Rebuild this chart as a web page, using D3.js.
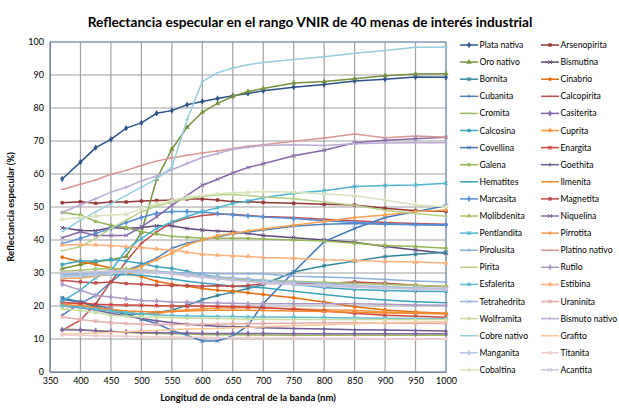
<!DOCTYPE html>
<html>
<head>
<meta charset="utf-8">
<script src="https://cdn.jsdelivr.net/npm/d3@7"></script>
<style>
  body { margin: 0; background: #fff; }
  svg { font-family: Lato, "Liberation Sans", sans-serif; }
  .tick text { font-size: 9px; fill: #000; }
  .legend text { font-size: 8.6px; fill: #000; }
</style>
</head>
<body>
<div id="chartContainer"></div>
<script>
// band centres (nm)
var wavelengths = [370, 400, 425, 450, 475, 500, 525, 550, 575, 600, 625, 650, 675, 700, 750, 800, 850, 900, 950, 1000];
var xTicks = [350, 400, 450, 500, 550, 600, 650, 700, 750, 800, 850, 900, 950, 1000];
var yTicks = [0, 10, 20, 30, 40, 50, 60, 70, 80, 90, 100];

// reflectance (%) per mineral
var plataNativa   = [58.5,63.6,68.0,70.5,73.9,75.5,78.4,79.2,81.0,82.0,82.9,83.7,84.4,85.2,86.3,87.1,88.2,88.7,89.4,89.3];
var arsenopirita  = [51.3,51.6,51.1,51.5,51.5,51.8,52.0,52.1,52.4,52.4,52.1,51.6,51.6,51.4,51.1,50.8,50.6,49.6,48.9,48.7];
var oroNativo     = [31.3,32.6,33.4,34.0,35.0,42.3,58.4,67.5,74.2,78.7,81.4,83.5,85.0,85.9,87.6,88.0,88.9,89.8,90.3,90.4];
var bismutina     = [43.7,42.9,42.8,43.8,43.5,43.8,44.3,44.3,43.5,43.0,42.7,42.5,42.0,41.4,40.7,40.0,39.3,38.0,37.0,36.0];
var bornita       = [22.5,21.2,19.8,18.5,17.5,17.6,18.0,18.7,20.2,21.9,23.2,24.2,25.3,26.5,30.3,32.2,33.6,35.0,35.7,36.3];
var cinabrio      = [34.8,33.4,32.6,31.5,30.0,28.9,27.5,26.6,26.0,25.3,24.8,24.5,24.0,23.5,22.5,21.2,19.8,18.8,18.2,17.8];
var cubanita      = [17.2,20.8,23.2,27.3,30.8,32.5,34.5,37.5,39.0,40.0,41.0,41.8,42.4,43.0,44.2,44.8,45.0,44.8,44.6,44.5];
var calcopirita   = [12.6,15.7,20.7,27.3,33.5,39.0,42.5,45.3,46.6,47.4,47.8,47.8,47.4,47.1,46.8,46.3,45.8,45.3,45.0,44.8];
var cromita       = [13.0,12.8,12.5,12.3,12.0,11.8,11.7,11.6,11.5,11.4,11.3,11.3,11.2,11.2,11.1,11.1,11.1,11.1,11.1,11.1];
var casiterita    = [12.8,12.7,12.5,12.3,12.1,12.0,11.9,11.8,11.8,11.7,11.7,11.7,11.7,11.7,11.6,11.6,11.6,11.6,11.6,11.6];
var calcosina     = [32.6,33.6,33.6,34.1,33.6,32.9,31.9,31.4,30.5,29.5,28.8,28.2,27.8,27.3,26.5,25.6,25.0,24.7,24.5,24.4];
var cuprita       = [21.2,20.5,19.2,18.7,18.2,17.6,17.6,18.5,18.9,19.2,19.4,19.5,19.5,19.5,19.2,18.9,18.7,18.2,17.9,17.7];
var covellina     = [22.0,21.2,20.2,19.2,17.7,16.0,14.7,12.6,11.1,9.4,9.4,10.9,14.1,20.7,30.3,39.5,43.5,46.8,48.6,50.4];
var enargita      = [21.0,20.8,20.5,20.4,20.3,20.2,20.1,20.0,20.0,20.0,19.9,19.8,19.7,19.5,19.0,18.5,17.8,17.2,16.9,16.6];
var galena        = [48.3,47.6,45.6,44.5,43.8,42.5,41.8,41.1,40.8,40.5,40.5,40.5,40.5,40.3,40.0,39.7,39.0,38.3,38.0,37.5];
var goethita      = [20.0,19.5,18.8,17.8,17.0,16.2,15.5,14.9,14.5,14.2,13.9,13.7,13.6,13.4,13.2,13.0,12.8,12.7,12.6,12.4];
var hematites     = [29.0,29.0,29.3,29.5,29.5,29.3,28.8,28.2,27.5,27.0,26.5,26.0,25.8,25.5,24.5,23.5,22.5,21.8,21.3,21.0];
var ilmenita      = [20.5,20.0,19.5,19.0,18.5,18.3,18.2,18.3,18.5,18.6,18.7,18.7,18.7,18.6,18.5,18.3,18.1,17.9,17.8,17.6];
var marcasita     = [38.9,40.5,42.0,43.5,45.3,46.8,48.1,48.6,48.6,48.5,48.0,47.6,47.3,47.0,46.5,45.8,45.3,44.9,44.7,44.6];
var magnetita     = [27.8,27.3,27.0,27.3,26.8,26.6,26.3,26.2,26.2,26.0,26.1,26.0,26.2,26.8,26.8,26.8,27.3,26.9,26.3,25.8];
var molibdenita   = [30.5,30.8,31.2,31.4,31.3,31.0,30.5,30.0,29.5,29.0,28.5,28.2,28.0,27.8,27.5,27.2,26.8,26.5,26.2,26.0];
var niquelina     = [40.7,42.5,41.4,41.4,41.4,44.0,47.0,50.5,53.5,56.6,58.4,60.3,62.0,63.1,65.5,67.2,69.5,70.2,70.7,71.1];
var pentlandita   = [21.5,24.8,28.6,30.6,37.0,40.5,43.5,45.5,47.1,48.6,49.8,51.1,51.8,52.8,54.2,54.9,56.2,56.5,56.7,57.2];
var pirrotita     = [28.3,28.5,29.0,29.8,30.5,32.0,34.0,36.0,38.5,40.0,41.3,42.0,42.7,43.3,44.5,45.6,46.8,47.6,48.6,49.1];
var pirolusita    = [29.5,29.8,30.2,30.5,30.5,30.5,30.3,30.2,30.0,30.0,29.8,29.8,29.8,29.8,29.0,28.8,28.5,28.0,27.6,27.3];
var platinoNativo = [55.3,56.9,58.2,59.9,61.1,62.6,63.9,64.9,65.7,66.4,67.0,67.7,68.4,68.9,69.9,70.9,72.1,71.0,71.5,71.1];
var pirita        = [36.7,38.0,40.5,43.5,46.0,48.5,50.3,51.5,52.5,53.2,53.6,53.8,53.5,53.0,52.5,51.5,50.5,49.0,48.0,47.2];
var rutilo        = [26.6,24.8,23.2,22.7,22.2,21.7,21.5,21.2,21.1,21.0,20.9,20.8,20.7,20.7,20.7,20.7,20.7,20.5,20.3,20.2];
var esfalerita    = [20.0,19.6,19.0,18.5,18.0,17.6,17.3,17.1,17.0,16.9,16.8,16.8,16.7,16.7,16.6,16.5,16.4,16.3,16.2,16.1];
var estibina      = [38.5,38.6,38.5,38.3,38.0,37.7,37.3,37.0,36.3,35.7,35.4,35.2,35.0,34.7,34.5,34.0,33.8,33.5,33.3,33.0];
var tetrahedrita  = [29.8,29.6,29.8,30.3,30.6,30.6,30.4,30.0,29.5,29.2,28.8,28.5,28.2,27.8,27.3,26.8,26.2,25.8,25.5,25.3];
var uraninita     = [16.7,15.9,15.4,14.9,14.7,14.5,14.4,14.4,14.4,14.5,14.5,14.6,14.6,14.7,14.8,14.9,14.9,14.8,14.8,14.7];
var wolframita    = [19.2,18.6,18.0,17.2,16.9,16.7,16.6,16.5,16.4,16.3,16.2,16.1,16.0,16.0,15.9,15.9,15.9,15.9,15.9,15.9];
var bismutoNativo = [48.4,50.6,52.5,54.5,56.0,57.9,59.4,61.3,63.2,65.0,66.2,67.5,68.1,68.6,68.9,68.6,69.2,69.4,69.5,69.5];
var cobreNativo   = [42.5,46.0,48.5,51.0,53.5,56.0,58.5,62.0,76.5,88.0,90.7,92.1,93.1,93.8,94.7,95.5,96.6,97.4,98.4,98.5];
var grafito       = [11.5,11.6,11.8,12.0,12.2,12.4,12.6,12.8,13.0,13.1,13.2,13.4,13.5,13.7,14.0,14.3,14.6,14.9,15.1,15.2];
var manganita     = [28.8,29.0,29.3,29.8,30.2,30.3,30.1,29.8,29.3,28.8,28.3,27.8,27.5,27.2,26.7,26.2,25.8,25.4,25.2,25.1];
var titanita      = [11.2,11.1,11.0,10.9,10.8,10.7,10.6,10.6,10.5,10.5,10.4,10.4,10.4,10.3,10.3,10.2,10.2,10.1,10.1,10.1];
var cobaltina     = [46.3,46.8,47.3,47.6,47.8,49.5,51.0,52.0,53.0,53.5,54.0,54.3,54.5,54.7,54.5,54.0,53.4,52.1,50.6,50.1];
var acantita      = [30.3,30.2,30.4,30.6,30.8,30.7,30.3,29.8,29.2,28.7,28.2,27.8,27.4,27.0,26.5,26.0,25.7,25.4,25.2,25.0];

var names = ["Plata nativa", "Arsenopirita", "Oro nativo", "Bismutina", "Bornita", "Cinabrio",
  "Cubanita", "Calcopirita", "Cromita", "Casiterita", "Calcosina", "Cuprita", "Covellina", "Enargita",
  "Galena", "Goethita", "Hematites", "Ilmenita", "Marcasita", "Magnetita", "Molibdenita", "Niquelina",
  "Pentlandita", "Pirrotita", "Pirolusita", "Platino nativo", "Pirita", "Rutilo", "Esfalerita", "Estibina",
  "Tetrahedrita", "Uraninita", "Wolframita", "Bismuto nativo", "Cobre nativo", "Grafito", "Manganita",
  "Titanita", "Cobaltina", "Acantita"];
var values = [plataNativa, arsenopirita, oroNativo, bismutina, bornita, cinabrio,
  cubanita, calcopirita, cromita, casiterita, calcosina, cuprita, covellina, enargita,
  galena, goethita, hematites, ilmenita, marcasita, magnetita, molibdenita, niquelina,
  pentlandita, pirrotita, pirolusita, platinoNativo, pirita, rutilo, esfalerita, estibina,
  tetrahedrita, uraninita, wolframita, bismutoNativo, cobreNativo, grafito, manganita,
  titanita, cobaltina, acantita];

// styling (Excel-like palette, marker cycle of 9)
var colors = ["#2A5288", "#943634", "#76923C", "#5F497A", "#31859C", "#E46C0A",
  "#4F81BD", "#C0504D", "#9BBB59", "#8064A2", "#3FA3BE", "#F79646", "#4077BB", "#D0433F",
  "#94B656", "#6E5A94", "#3BA1BC", "#F08A30", "#558ED5", "#BE4B48", "#A9C46C", "#8468A8",
  "#4CB4D0", "#F9A050", "#8EB0DA", "#D99694", "#B9D089", "#AA98C6", "#5DBCD2", "#FAB07A",
  "#9DB7DD", "#E4ACAA", "#C9DBA3", "#BBAAD2", "#96CEDE", "#FBC59A", "#B5C9E6",
  "#EFCDCC", "#D7E4BD", "#CCC1DA"];
var markerCycle = ["diamond", "square", "triangle", "x", "star", "circle", "plus", "dash", "dash"];

var margin = { top: 42, left: 50, right: 446, bottom: 372 };

var svg = d3.select("#chartContainer")
  .append("svg")
  .attr("width", 619)
  .attr("height", 408);

var xScale = d3.scaleLinear().domain([350, 1000]).range([margin.left, margin.right]);
var yScale = d3.scaleLinear().domain([0, 100]).range([margin.bottom, margin.top]);

// gridlines
svg.append("g")
  .selectAll("line.hgrid")
  .data(yTicks)
  .enter()
  .append("line")
  .attr("x1", margin.left).attr("x2", margin.right)
  .attr("y1", d => yScale(d)).attr("y2", d => yScale(d))
  .attr("stroke", "#a0a0a0").attr("stroke-width", 1.2);
svg.append("g")
  .selectAll("line.vgrid")
  .data(xTicks)
  .enter()
  .append("line")
  .attr("x1", d => xScale(d)).attr("x2", d => xScale(d))
  .attr("y1", margin.top).attr("y2", margin.bottom)
  .attr("stroke", "#a0a0a0").attr("stroke-width", 1.2);

// plot border
svg.append("rect")
  .attr("x", margin.left).attr("y", margin.top)
  .attr("width", margin.right - margin.left)
  .attr("height", margin.bottom - margin.top)
  .attr("fill", "none")
  .attr("stroke", "#6f94c8")
  .attr("stroke-width", 1);

// axes
var xAxis = d3.axisBottom(xScale).tickValues(xTicks).tickFormat(d3.format("d")).tickSize(0).tickPadding(6);
var yAxis = d3.axisLeft(yScale).tickValues(yTicks).tickFormat(d3.format("d")).tickSize(0).tickPadding(6);
svg.append("g")
  .attr("class", "x axis")
  .attr("transform", "translate(0," + margin.bottom + ")")
  .call(xAxis)
  .call(g => g.select(".domain").attr("stroke", "#868686"));
svg.append("g")
  .attr("class", "y axis")
  .attr("transform", "translate(" + margin.left + ",0)")
  .call(yAxis)
  .call(g => g.select(".domain").attr("stroke", "#868686"));
svg.selectAll(".tick text").attr("font-family", "Lato, sans-serif");

// marker drawing
function markerPath(type) {
  var s = 1.9;
  switch (type) {
    case "diamond": return d3.symbol().type(d3.symbolDiamond).size(9)();
    case "square": return d3.symbol().type(d3.symbolSquare).size(8)();
    case "triangle": return d3.symbol().type(d3.symbolTriangle).size(9)();
    case "circle": return d3.symbol().type(d3.symbolCircle).size(8)();
    case "x": return "M" + -s + "," + -s + "L" + s + "," + s + "M" + -s + "," + s + "L" + s + "," + -s;
    case "star": return "M" + -s + "," + -s + "L" + s + "," + s + "M" + -s + "," + s + "L" + s + "," + -s + "M0," + -s + "L0," + s;
    case "plus": return "M" + -s + ",0L" + s + ",0M0," + -s + "L0," + s;
    default: return "M" + -s + ",0L" + s + ",0";
  }
}
function isFilled(type) {
  return type === "diamond" || type === "square" || type === "triangle" || type === "circle";
}

var line = d3.line()
  .x((d, i) => xScale(wavelengths[i]))
  .y(d => yScale(d));

var seriesG = svg.append("g");
values.forEach(function(vals, k) {
  var col = colors[k];
  var mk = markerCycle[k % markerCycle.length];
  var g = seriesG.append("g").attr("class", "series");
  g.append("path")
    .attr("d", line(vals))
    .attr("fill", "none")
    .attr("stroke", col)
    .attr("stroke-width", 1.5);
  g.selectAll("path.mk")
    .data(vals)
    .enter()
    .append("path")
    .attr("class", "mk")
    .attr("d", markerPath(mk))
    .attr("transform", (d, i) => "translate(" + xScale(wavelengths[i]) + "," + yScale(d) + ")")
    .attr("fill", isFilled(mk) ? col : "none")
    .attr("stroke", col)
    .attr("stroke-width", isFilled(mk) ? 0.5 : 1);
});

// legend, two columns, row-major
var legend = svg.append("g").attr("class", "legend");
var rowH = 17.1;
names.forEach(function(name, k) {
  var col = k % 2, row = Math.floor(k / 2);
  var x0 = col === 0 ? 460 : 541;
  var y0 = 45 + row * rowH;
  var mk = markerCycle[k % markerCycle.length];
  var item = legend.append("g").attr("transform", "translate(" + x0 + "," + y0 + ")");
  item.append("line")
    .attr("x1", 0).attr("x2", 18)
    .attr("y1", 0).attr("y2", 0)
    .attr("stroke", colors[k]).attr("stroke-width", 1.5);
  item.append("path")
    .attr("d", markerPath(mk))
    .attr("transform", "translate(9,0)")
    .attr("fill", isFilled(mk) ? colors[k] : "none")
    .attr("stroke", colors[k])
    .attr("stroke-width", isFilled(mk) ? 0.5 : 1);
  item.append("text")
    .attr("x", 19.5)
    .attr("y", 3)
    .text(name);
});

// title & labels
var title = svg.append("text")
  .attr("x", 310)
  .attr("y", 27)
  .attr("text-anchor", "middle")
  .attr("font-weight", "bold")
  .attr("font-size", 15)
  .text("Reflectancia especular en el rango VNIR de 40 menas de interés industrial");
var tw = title.node().getComputedTextLength();
title.attr("font-size", 15 * 445 / tw);

svg.append("text")
  .attr("transform", "translate(14," + ((margin.top + margin.bottom) / 2) + ") rotate(-90)")
  .attr("text-anchor", "middle")
  .attr("font-weight", "bold")
  .attr("font-size", 9.5)
  .text("Reflectancia especular (%)");

svg.append("text")
  .attr("x", (margin.left + margin.right) / 2)
  .attr("y", 401)
  .attr("text-anchor", "middle")
  .attr("font-weight", "bold")
  .attr("font-size", 9.5)
  .text("Longitud de onda central de la banda (nm)");
</script>
</body>
</html>
